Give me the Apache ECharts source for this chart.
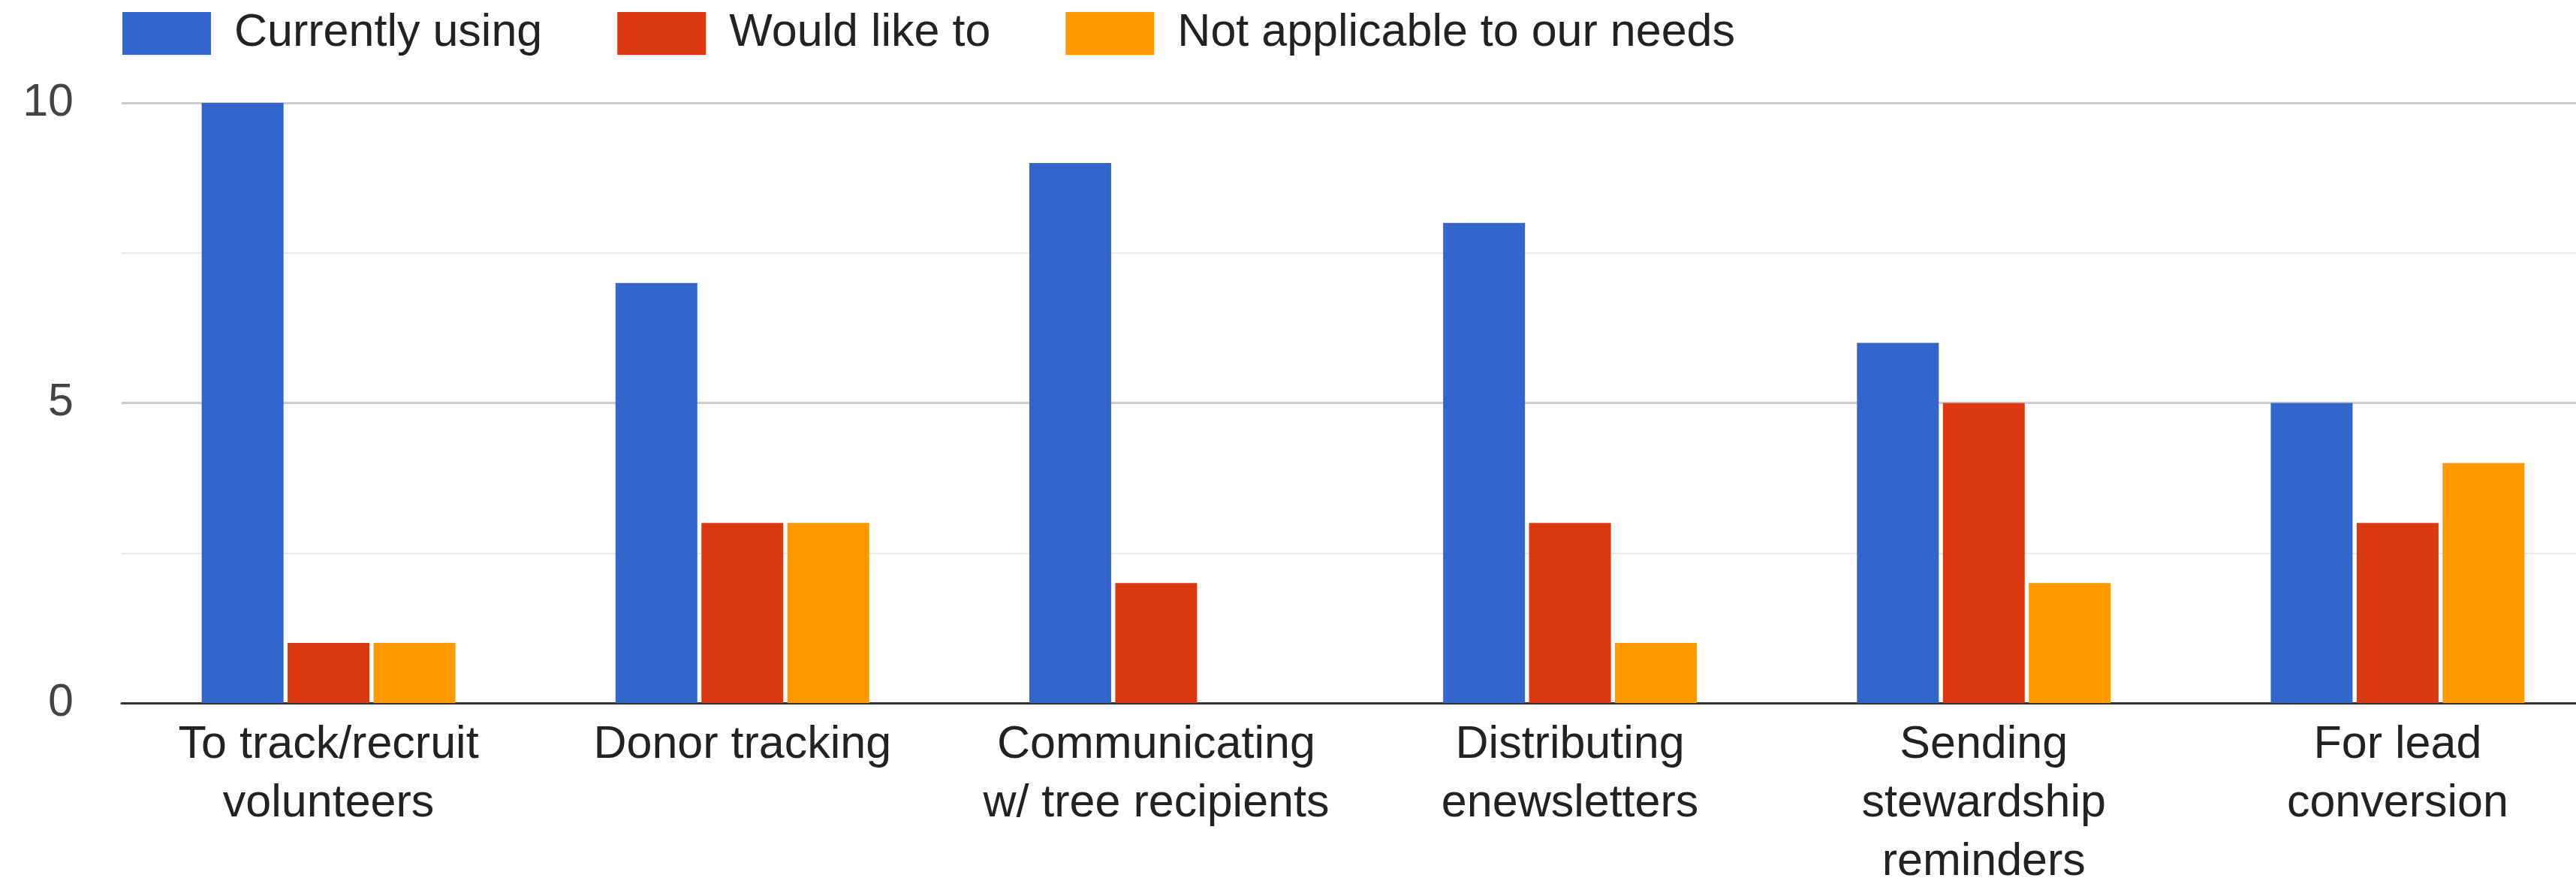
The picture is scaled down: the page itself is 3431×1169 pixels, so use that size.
<!DOCTYPE html>
<html>
<head>
<meta charset="utf-8">
<script src="https://cdn.jsdelivr.net/npm/echarts@6/dist/echarts.min.js"></script>
<style>
html,body{margin:0;padding:0;background:#fff;}
#chart{width:3431px;height:1169px;}
</style>
</head>
<body>
<div id="chart"></div>
<script>
const categories = [
  'To track/recruit\nvolunteers',
  'Donor tracking',
  'Communicating\nw/ tree recipients',
  'Distributing\nenewsletters',
  'Sending\nstewardship\nreminders',
  'For lead\nconversion'
];
const seriesNames = ['Currently using', 'Would like to', 'Not applicable to our needs'];
const currentlyUsing = [10, 7, 9, 8, 6, 5];
const wouldLikeTo = [1, 3, 2, 3, 5, 3];
const notApplicable = [1, 3, 0, 1, 2, 4];
const colors = ['#3366CC', '#DC3912', '#FF9900'];

const FONT = '"Liberation Sans", Arial, sans-serif';
const chart = echarts.init(document.getElementById('chart'), null, {renderer: 'canvas'});

function bar(name, data, color) {
  return {
    name: name,
    type: 'bar',
    data: data,
    barWidth: 109,
    barGap: '5%',
    itemStyle: {color: color},
    emphasis: {disabled: true}
  };
}

chart.setOption({
  animation: false,
  color: colors,
  textStyle: {fontFamily: FONT},
  legend: {
    left: 163,
    top: 14,
    padding: 0,
    icon: 'rect',
    itemWidth: 118,
    itemHeight: 57,
    itemGap: 100,
    textStyle: {fontSize: 61, color: '#222', fontFamily: FONT, padding: [0, 0, 0, 26]},
    data: seriesNames
  },
  grid: {left: 162, width: 3307, top: 137, height: 799, containLabel: false, outerBoundsMode: 'none'},
  xAxis: {
    type: 'category',
    data: categories,
    axisLine: {show: true, lineStyle: {color: '#333', width: 3}},
    axisTick: {show: false},
    axisLabel: {
      interval: 0,
      fontSize: 61,
      lineHeight: 78,
      color: '#222',
      margin: 17,
      fontFamily: FONT
    }
  },
  yAxis: {
    type: 'value',
    min: 0,
    max: 10,
    interval: 5,
    axisLine: {show: false},
    axisTick: {show: false},
    axisLabel: {fontSize: 61, color: '#444', margin: 64, fontFamily: FONT},
    splitLine: {show: true, lineStyle: {color: '#cccccc', width: 3}},
    minorTick: {show: false, splitNumber: 2},
    minorSplitLine: {show: true, lineStyle: {color: '#ebebeb', width: 2}}
  },
  series: [
    bar(seriesNames[0], currentlyUsing, colors[0]),
    bar(seriesNames[1], wouldLikeTo, colors[1]),
    bar(seriesNames[2], notApplicable, colors[2])
  ]
});
</script>
</body>
</html>
